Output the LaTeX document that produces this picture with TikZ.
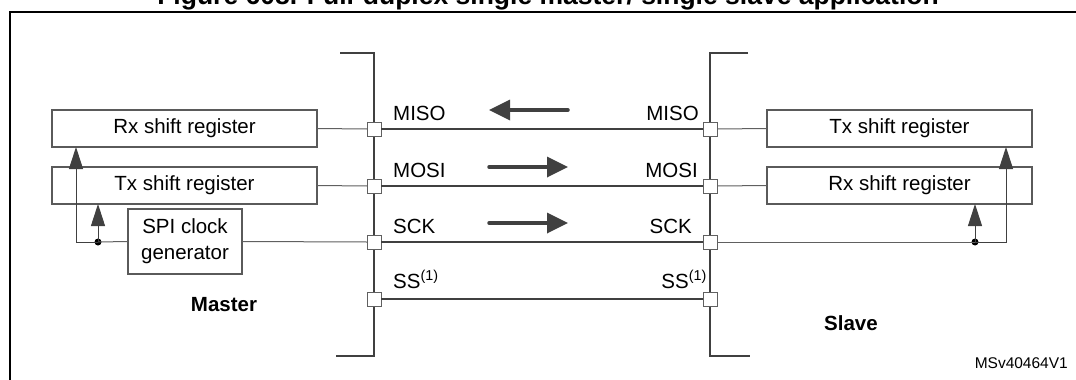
\documentclass[tikz,border=0pt]{standalone}
\usepackage{fontspec}
\setmainfont{Liberation Sans}
\usetikzlibrary{arrows.meta}
\definecolor{dark}{HTML}{404040}
\definecolor{boxgray}{HTML}{5A5A5A}
\definecolor{thingray}{HTML}{606060}
\tikzset{
  txt/.style={font=\fontsize{20.5}{26}\selectfont, inner sep=0pt, text=black},
  reg/.style={draw=boxgray, line width=1.2pt, fill=white, minimum width=265pt, minimum height=37pt, inner sep=0pt, outer sep=0pt, txt},
  sq/.style={draw=thingray, line width=1pt, fill=white, minimum size=14pt, inner sep=0pt, outer sep=0pt},
  bus/.style={draw=dark, line width=2pt},
  sig/.style={draw=dark, line width=2pt},
  thinl/.style={draw=thingray, line width=1pt},
  uptip/.style={-{Triangle[length=22pt,width=14pt]}, color=dark},
  bigarrow/.style={draw=dark, line width=3.5pt, -{Triangle[length=21pt,width=20pt]}, line cap=round},
  dotn/.style={circle, fill=black, minimum size=7pt, inner sep=0pt, outer sep=0pt},
  bold/.style={txt, font=\fontsize{20.5}{26}\selectfont\bfseries},
}
\begin{document}
\begin{tikzpicture}[x=1pt,y=-1pt]
\useasboundingbox (0,0) rectangle (1076,380);
\clip (0,0) rectangle (1076,380);
\fill[white] (0,0) rectangle (1076,380);
% title (cut at top)
\node[anchor=base, inner sep=0pt, font=\fontsize{26.5}{30}\selectfont\bfseries] (title) at (548,5) {Figure 608. Full-duplex single master/ single slave application};
% frame
\draw[line width=2.5pt, black] (10,400) -- (10,12) -- (1090,12);
% buses
\draw[bus] (340,53) -- (374,53) -- (374,356) -- (336,356);
\draw[bus] (748,53) -- (710,53) -- (710,356) -- (750,356);
% squares
\node[sq] (lmiso) at (374,129) {};
\node[sq] (lmosi) at (374,186) {};
\node[sq] (lsck) at (374,242) {};
\node[sq] (lss) at (374,299) {};
\node[sq] (rmiso) at (710,129) {};
\node[sq] (rmosi) at (710,186) {};
\node[sq] (rsck) at (710,242) {};
\node[sq] (rss) at (710,299) {};
% signal lines
\draw[sig] (lmiso) -- (rmiso);
\draw[sig] (lmosi) -- (rmosi);
\draw[sig] (lsck) -- (rsck);
\draw[sig] (lss) -- (rss);
% master boxes
\node[reg] (mrx) at (184.5,128.5) {Rx shift register};
\node[reg] (mtx) at (184.5,185.5) {Tx shift register};
\node[reg, minimum width=114pt, minimum height=65pt, align=center] (clk) at (185,241.5) {SPI clock\\generator};
% slave boxes
\node[reg] (stx) at (899.5,128.5) {Tx shift register};
\node[reg] (srx) at (899.5,185.5) {Rx shift register};
% thin connections
\draw[thinl] (mrx.east) -- (lmiso.west);
\draw[thinl] (mtx.east) -- (lmosi.west);
\draw[thinl] (clk.east) -- (lsck.west);
\draw[thinl] (stx.west) -- (rmiso.east);
\draw[thinl] (srx.west) -- (rmosi.east);
% master clock branch
\node[dotn] (mdot) at (98,242) {};
\coordinate (mcorner) at (76,242);
\draw[thinl] (clk.west) -- (mdot.center);
\draw[thinl, uptip] (mdot.center) -- (mcorner) -- (mcorner |- mrx.south);
\draw[thinl, uptip] (mdot.center) -- (mdot.center |- mtx.south);
% slave clock branch
\node[dotn] (sdot) at (975,242) {};
\coordinate (scorner) at (1006,242);
\draw[thinl] (rsck.east) -- (sdot.center);
\draw[thinl, uptip] (sdot.center) -- (scorner) -- (scorner |- stx.south);
\draw[thinl, uptip] (sdot.center) -- (sdot.center |- srx.south);
% direction arrows
\draw[bigarrow] (568,110) -- (489,110);
\draw[bigarrow] (489,167) -- (568,167);
\draw[bigarrow] (489,223) -- (568,223);
% labels
\node[txt, anchor=base west] (lmisot) at (393,120) {MISO};
\node[txt, anchor=base west] (lmosit) at (393,177) {MOSI};
\node[txt, anchor=base west] (lsckt) at (393,233) {SCK};
\node[txt, anchor=base west] (lsst) at (393,288) {SS\textsuperscript{(1)}};
\node[txt, anchor=base east] (rmisot) at (699,120) {MISO};
\node[txt, anchor=base east] (rmosit) at (698,177) {MOSI};
\node[txt, anchor=base east] (rsckt) at (692,233) {SCK};
\node[txt, anchor=base east] (rsst) at (707,288) {SS\textsuperscript{(1)}};
\node[bold] (master) at (224,305) {Master};
\node[bold] (slave) at (851,323) {Slave};
\node[txt, font=\fontsize{15.5}{18}\selectfont, anchor=east] (ref) at (1068,363) {MSv40464V1};
\end{tikzpicture}
\end{document}
